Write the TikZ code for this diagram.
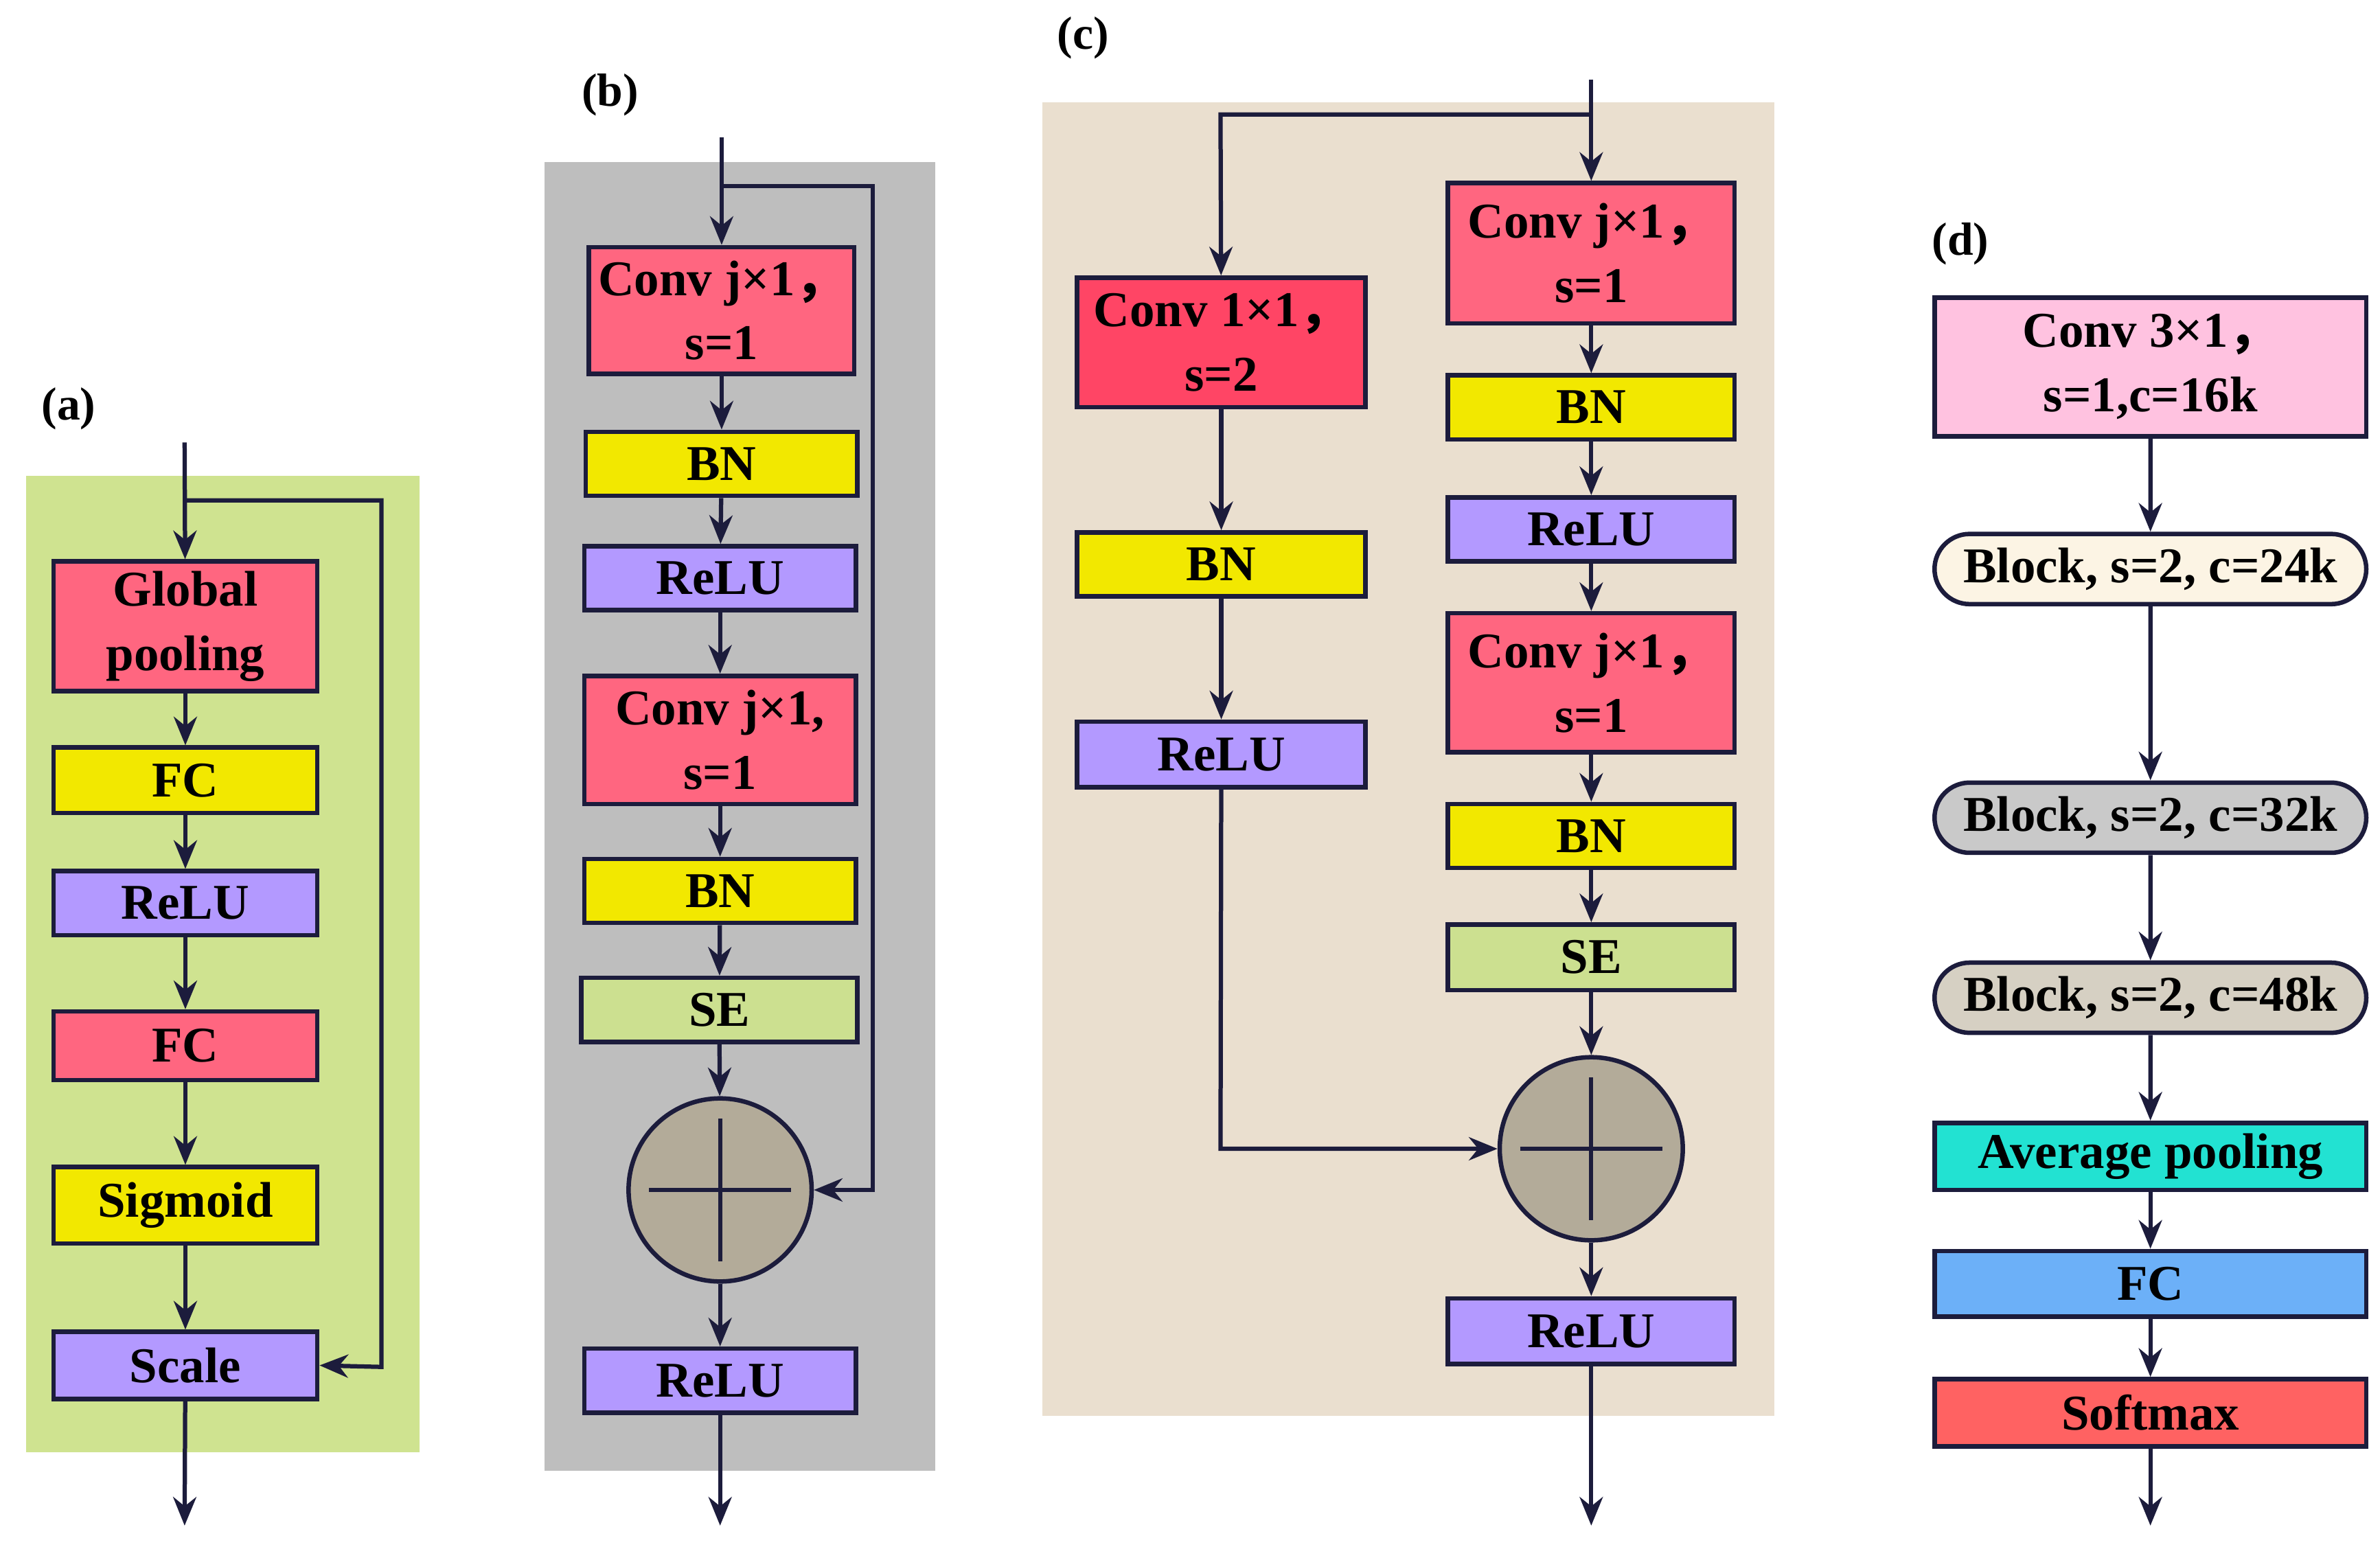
\documentclass[tikz,border=0pt]{standalone}
\usepackage{fontspec}
\setmainfont{Liberation Serif}
\newfontfamily\cjk{Noto Sans CJK SC}
\usetikzlibrary{arrows.meta,shapes.misc}
\definecolor{lc}{HTML}{1C1C3C}
\definecolor{cred}{HTML}{FF6680}
\definecolor{cdred}{HTML}{FF4565}
\definecolor{cyel}{HTML}{F2E800}
\definecolor{cpur}{HTML}{B399FF}
\definecolor{cgrn}{HTML}{CCE090}
\definecolor{bga}{HTML}{CFE390}
\definecolor{bgb}{HTML}{BEBEBE}
\definecolor{bgc}{HTML}{EADFCF}
\definecolor{ccir}{HTML}{B3AB99}
\definecolor{dpink}{HTML}{FFC2E0}
\definecolor{dcream}{HTML}{FCF4E4}
\definecolor{dgray}{HTML}{C9C9C9}
\definecolor{dbeige}{HTML}{D6D0C3}
\definecolor{dcyan}{HTML}{22E2D2}
\definecolor{dblue}{HTML}{6CB0F8}
\definecolor{dred}{HTML}{FF6262}
\newcommand{\cm}{{\cjk ，}}
\newcommand{\bx}[7]{\node[box,#6,minimum width={(#4-#2)*0.03cm},minimum height={(#5-#3)*0.03cm}] (#1) at ({(#2+#4)/2},{(#3+#5)/2}) {#7};}
\begin{document}
\begin{tikzpicture}[x=0.03cm,y=-0.03cm,
  box/.style={draw=lc,line width=2.5pt,inner sep=0pt,align=center,font=\fontsize{28}{36}\selectfont\bfseries},
  rbox/.style={rounded rectangle},
  arr/.style={line width=2.4pt,lc,-{Stealth[length=16pt,width=13pt]}},
  ln/.style={line width=2.4pt,lc},
  lab/.style={font=\fontsize{26}{30}\selectfont\bfseries},
  sum/.style={circle,draw=lc,line width=2.5pt,fill=ccir,minimum size=3.6cm,inner sep=0pt}]
\useasboundingbox (0,0) rectangle (1560,1014);
% (a)
\node[lab] (la) at (45,268) {(a)};
\fill[bga] (17,312) rectangle (275,952);
\bx{a1}{35}{368}{208}{453}{fill=cred}{Global\\pooling}
\bx{a2}{35}{490}{208}{533}{fill=cyel}{FC}
\bx{a3}{35}{571}{208}{613}{fill=cpur}{ReLU}
\bx{a4}{35}{663}{208}{708}{fill=cred}{FC}
\bx{a5}{35}{765}{208}{815}{fill=cyel}{Sigmoid}
\bx{a6}{35}{873}{208}{917}{fill=cpur}{Scale}
\coordinate (ain) at (121,290); \coordinate (aout) at (121,1000);
\coordinate (as) at (121,328); \coordinate (as2) at (250,328); \coordinate (as3) at (250,896);
\draw[arr] (ain) -- (a1);
\draw[arr] (a1) -- (a2); \draw[arr] (a2) -- (a3); \draw[arr] (a3) -- (a4);
\draw[arr] (a4) -- (a5); \draw[arr] (a5) -- (a6); \draw[arr] (a6) -- (aout);
\draw[arr] (as) -- (as2) -- (as3) -- (a6.east);
% (b)
\node[lab] (lb) at (400,62) {(b)};
\fill[bgb] (357,106) rectangle (613,964);
\bx{b1}{386}{162}{560}{245}{fill=cred}{Conv j×1\cm\\s=1}
\bx{b2}{384}{283}{562}{325}{fill=cyel}{BN}
\bx{b3}{383}{358}{561}{400}{fill=cpur}{ReLU}
\bx{b4}{383}{443}{561}{527}{fill=cred}{Conv j×1,\\s=1}
\bx{b5}{383}{563}{561}{605}{fill=cyel}{BN}
\bx{b6}{381}{641}{562}{683}{fill=cgrn}{SE}
\node[sum] (bs) at (472,780) {};
\draw[ln] ([xshift=-1.4cm]bs.center) -- ([xshift=1.4cm]bs.center) ([yshift=-1.4cm]bs.center) -- ([yshift=1.4cm]bs.center);
\bx{b7}{383}{884}{561}{926}{fill=cpur}{ReLU}
\coordinate (bin) at (473,90); \coordinate (bout) at (472,1000);
\coordinate (bk) at (473,122); \coordinate (bk2) at (572,122); \coordinate (bk3) at (572,780);
\draw[arr] (bin) -- (bin |- b1.north);
\draw[arr] (b1.south -| b2) -- (b2); \draw[arr] (b2) -- (b3);
\draw[arr] (b3) -- (b4); \draw[arr] (b4) -- (b5); \draw[arr] (b5) -- (b6);
\draw[arr] (b6) -- (bs); \draw[arr] (bs) -- (b7); \draw[arr] (b7) -- (bout);
\draw[arr] (bk) -- (bk2) -- (bk3) -- (bs.east);
% (c)
\node[lab] (lc0) at (710,25) {(c)};
\fill[bgc] (683,67) rectangle (1163,928);
\bx{c1}{706}{182}{895}{267}{fill=cdred}{Conv 1×1\cm\\s=2}
\bx{c2}{706}{349}{895}{391}{fill=cyel}{BN}
\bx{c3}{706}{473}{895}{516}{fill=cpur}{ReLU}
\bx{d1c}{949}{120}{1137}{212}{fill=cred}{Conv j×1\cm\\s=1}
\bx{d2c}{949}{246}{1137}{288}{fill=cyel}{BN}
\bx{d3c}{949}{326}{1137}{368}{fill=cpur}{ReLU}
\bx{d4c}{949}{402}{1137}{493}{fill=cred}{Conv j×1\cm\\s=1}
\bx{d5c}{949}{527}{1137}{569}{fill=cyel}{BN}
\bx{d6c}{949}{606}{1137}{649}{fill=cgrn}{SE}
\node[sum] (cs) at (1043,753) {};
\draw[ln] ([xshift=-1.4cm]cs.center) -- ([xshift=1.4cm]cs.center) ([yshift=-1.4cm]cs.center) -- ([yshift=1.4cm]cs.center);
\bx{d7c}{949}{851}{1137}{894}{fill=cpur}{ReLU}
\coordinate (cin) at (1043,52); \coordinate (cout) at (1043,1000);
\coordinate (ck) at (1043,75); \coordinate (ck2) at (800,75);
\coordinate (cm1) at (800,753);
\draw[arr] (cin) -- (d1c);
\draw[arr] (ck) -- (ck2) -- (c1);
\draw[arr] (c1) -- (c2); \draw[arr] (c2) -- (c3);
\draw[arr] (c3) -- (cm1) -- (cs.west);
\draw[arr] (d1c) -- (d2c); \draw[arr] (d2c) -- (d3c); \draw[arr] (d3c) -- (d4c);
\draw[arr] (d4c) -- (d5c); \draw[arr] (d5c) -- (d6c); \draw[arr] (d6c) -- (cs);
\draw[arr] (cs) -- (d7c); \draw[arr] (d7c) -- (cout);
% (d)
\node[lab] (ld) at (1285,160) {(d)};
\bx{e1}{1268}{195}{1551}{286}{fill=dpink}{Conv 3×1\cm\\s=1,c=16k}
\bx{e2}{1268}{350}{1551}{396}{rbox,fill=dcream}{Block, s=2, c=24k}
\bx{e3}{1268}{513}{1551}{559}{rbox,fill=dgray}{Block, s=2, c=32k}
\bx{e4}{1268}{631}{1551}{677}{rbox,fill=dbeige}{Block, s=2, c=48k}
\bx{e5}{1268}{736}{1551}{780}{fill=dcyan}{Average pooling}
\bx{e6}{1268}{820}{1551}{863}{fill=dblue}{FC}
\bx{e7}{1268}{904}{1551}{948}{fill=dred}{Softmax}
\coordinate (eout) at (1409.5,1000);
\draw[arr] (e1) -- (e2); \draw[arr] (e2) -- (e3); \draw[arr] (e3) -- (e4);
\draw[arr] (e4) -- (e5); \draw[arr] (e5) -- (e6); \draw[arr] (e6) -- (e7);
\draw[arr] (e7) -- (eout);
\end{tikzpicture}
\end{document}
